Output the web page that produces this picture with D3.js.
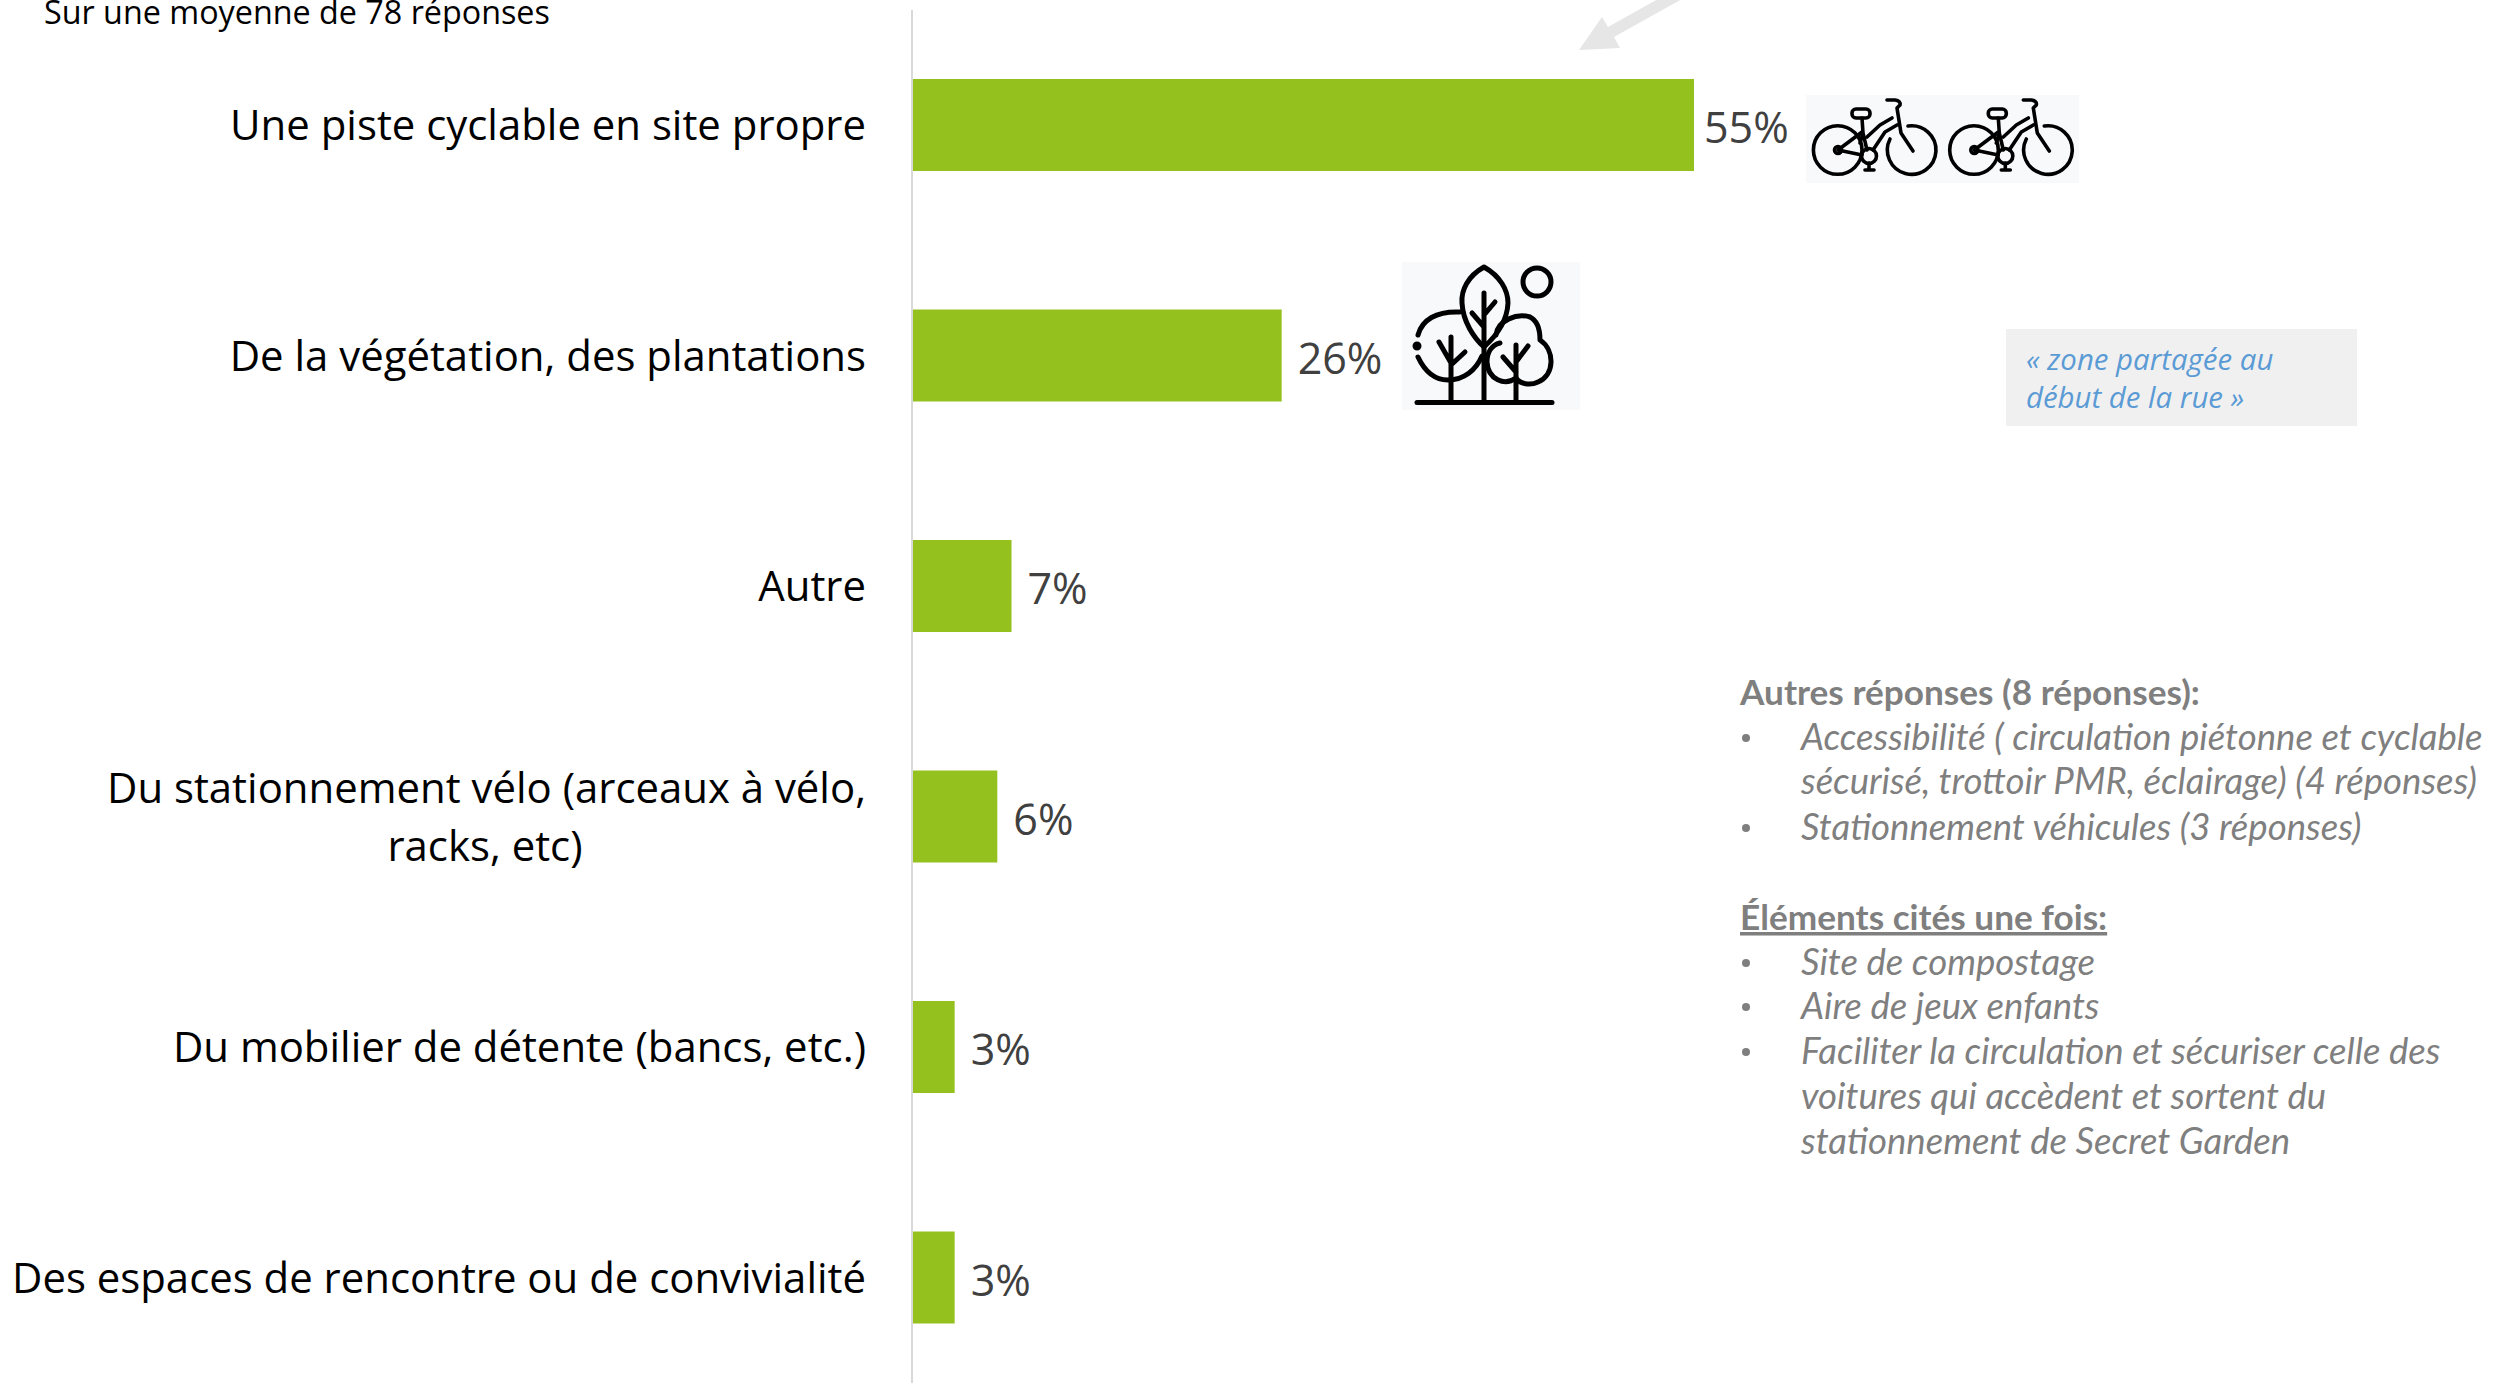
<!DOCTYPE html>
<html>
<head>
<meta charset="utf-8">
<script src="https://cdn.jsdelivr.net/npm/d3@7"></script>
<style>
body { margin: 0; background: #fff; }
svg { display: block; }
</style>
</head>
<body>
<script>
const canvWidth = 2520, canvHeight = 1383;

const categories = [
    ["Une piste cyclable en site propre"],
    ["De la végétation, des plantations"],
    ["Autre"],
    ["Du stationnement vélo (arceaux à vélo,", "racks, etc)"],
    ["Du mobilier de détente (bancs, etc.)"],
    ["Des espaces de rencontre ou de convivialité"]
];
const values = [55, 26, 7, 6, 3, 3];
const notesTop = ["Accessibilité ( circulation piétonne et cyclable", "sécurisé, trottoir PMR, éclairage) (4 réponses)", "Stationnement véhicules (3 réponses)"];
const notesOnce = ["Site de compostage", "Aire de jeux enfants", "Faciliter la circulation et sécuriser celle des", "voitures qui accèdent et sortent du", "stationnement de Secret Garden"];

const svg = d3.select("body").append("svg")
    .attr("width", canvWidth)
    .attr("height", canvHeight);

const x0 = 912, barStep = 230.5, barH = 92;

const xScale = d3.scaleLinear().domain([0, 55]).range([x0, 1694]);
const yScale = d3.scaleBand()
    .domain(d3.range(values.length))
    .range([9.75, 9.75 + barStep * values.length])
    .paddingInner(1 - barH / barStep)
    .paddingOuter((1 - barH / barStep) / 2);

svg.append("line")
    .attr("x1", x0).attr("x2", x0)
    .attr("y1", 10).attr("y2", canvHeight)
    .attr("stroke", "#d9d9d9").attr("stroke-width", 2);

svg.selectAll("rect.bar")
    .data(values)
    .enter().append("rect")
    .attr("class", "bar")
    .attr("x", x0 + 1)
    .attr("y", (d, i) => yScale(i))
    .attr("width", d => xScale(d) - x0 - 1)
    .attr("height", yScale.bandwidth())
    .attr("fill", "#95c11f");

svg.selectAll("text.val")
    .data(values)
    .enter().append("text")
    .attr("class", "val")
    .attr("x", (d, i) => xScale(d) + (i == 0 ? 10 : 16))
    .attr("y", (d, i) => yScale(i) + barH / 2 + 3)
    .attr("dy", "0.36em")
    .attr("font-family", "Open Sans")
    .attr("font-size", "43px")
    .attr("fill", "#404040")
    .text(d => d + "%");

// category labels, the wrapped one has its second line centred
const cat = svg.selectAll("g.cat")
    .data(categories)
    .enter().append("g")
    .attr("class", "cat")
    .attr("font-family", "Open Sans")
    .attr("font-size", "41.9px")
    .attr("fill", "#000");

cat.each(function(lines, i) {
    const g = d3.select(this);
    const cy = yScale(i) + barH / 2 + 2.5;
    if (lines.length == 1) {
        g.append("text").attr("x", 866).attr("y", cy).attr("dy", "0.3em")
            .attr("text-anchor", "end").text(lines[0]);
    } else {
        g.append("text").attr("x", 866).attr("y", cy - 29).attr("dy", "0.3em")
            .attr("text-anchor", "end").text(lines[0]);
        g.append("text").attr("x", 485).attr("y", cy + 29).attr("dy", "0.3em")
            .attr("text-anchor", "middle").text(lines[1]);
    }
});

svg.append("text")
    .attr("x", 44).attr("y", 24)
    .attr("font-family", "Open Sans")
    .attr("font-size", "32.3px")
    .attr("fill", "#000")
    .text("Sur une moyenne de 78 réponses");

// grey arrow coming from the cropped callout
svg.append("path")
    .attr("d", "M1658,-1 L1608,27 L1602,17 L1579,50 L1620,48 L1614,37 L1682,-1 Z")
    .attr("fill", "#e6e6e6");

// bikes
svg.append("rect").attr("x", 1806).attr("y", 95).attr("width", 273).attr("height", 88).attr("fill", "#f8f9fb");
function bike(ox) {
    const g = svg.append("g")
        .attr("transform", `translate(${ox},95)`)
        .attr("fill", "none").attr("stroke", "#000")
        .attr("stroke-width", 3.6).attr("stroke-linecap", "round").attr("stroke-linejoin", "round");
    g.append("circle").attr("cx", 31.7).attr("cy", 55).attr("r", 24.3);
    g.append("path").attr("d", "M102,31 A24.3,24.3 0 1 1 84,44");
    g.append("path").attr("d", "M81,5 H89 Q95,6 94,10 L91,13 L95,38 L107,56");
    g.append("rect").attr("x", 46).attr("y", 14).attr("width", 18).attr("height", 9).attr("rx", 4);
    g.append("path").attr("d", "M56,23 L57,38 L54,48 M32,55 L56,37 M32,55 L56,60 M57,38 L61,55");
    g.append("path").attr("d", "M61,42 L74,30 L86,23 M67,55 L79,37 L91,30");
    g.append("circle").attr("cx", 63).attr("cy", 61).attr("r", 7.5);
    g.append("path").attr("d", "M63,68 V75 M59,75 H68");
    g.append("circle").attr("cx", 32).attr("cy", 55).attr("r", 3.5);
}
bike(1806);
bike(1942.3);

// trees
svg.append("rect").attr("x", 1402).attr("y", 262).attr("width", 178).attr("height", 148).attr("fill", "#f8f9fb");
const t = svg.append("g")
    .attr("transform", "translate(1370,240)")
    .attr("fill", "none").attr("stroke", "#000")
    .attr("stroke-width", 5).attr("stroke-linecap", "round").attr("stroke-linejoin", "round");
t.append("circle").attr("cx", 167).attr("cy", 42).attr("r", 14);
t.append("path").attr("d", "M47,162.5 H182");
t.append("path").attr("d", "M114,162 V53 M125,62 L114,75 M102,73 L114,87");
t.append("path").attr("d", "M114,27 C98,36 91,50 92,63 C93,82 104,98 114,107 C124,98 137,84 138,63 C138,50 130,36 114,27 Z");
t.append("path").attr("d", "M48,95 C52,80 66,71 90,72");
t.append("path").attr("d", "M48,117 C56,134 66,140 78,140 C94,140 106,130 112,116");
t.append("path").attr("d", "M81,160 V97 M69,102 L81,123 M95,112 L81,125");
t.append("path").attr("d", "M146,160 V105 M158,106 L146,122 M133,117 L146,132");
t.append("path").attr("d", "M126,95 C128,80 147,73 160,77 C168,81 170,90 170,100 C185,110 185,135 168,142 C160,146 150,144 146,138 C135,146 118,140 117,122 C117,112 122,105 130,103");
t.append("circle").attr("cx", 47).attr("cy", 106).attr("r", 2).attr("fill", "#000");

// quote box
svg.append("rect").attr("x", 2006).attr("y", 329).attr("width", 351).attr("height", 97).attr("fill", "#f0f0f0");
svg.selectAll("text.quote")
    .data(["« zone partagée au", "début de la rue »"])
    .enter().append("text")
    .attr("class", "quote")
    .attr("x", 2026)
    .attr("y", (d, i) => 369.5 + i * 38)
    .attr("font-family", "Open Sans")
    .attr("font-style", "italic")
    .attr("font-size", "29.4px")
    .attr("fill", "#5b9bd5")
    .text(d => d);

// right hand notes
const noteFont = "Lato", noteCol = "#7f7f7f", noteX = 1740, bulletX = 1746, itemX = 1801;
function head(y, s, underline) {
    svg.append("text").attr("x", noteX).attr("y", y)
        .attr("font-family", noteFont).attr("font-weight", 700).attr("font-size", "35.2px")
        .attr("fill", noteCol).attr("text-decoration", underline ? "underline" : null).text(s);
}
function item(y, s, bullet) {
    if (bullet) {
        svg.append("circle").attr("cx", bulletX).attr("cy", y - 12).attr("r", 4).attr("fill", noteCol);
    }
    svg.append("text").attr("x", itemX).attr("y", y)
        .attr("font-family", noteFont).attr("font-style", "italic").attr("font-size", "36.6px")
        .attr("fill", noteCol).text(s);
}
head(705, "Autres réponses (8 réponses):");
item(750, notesTop[0], true);
item(794, notesTop[1], false);
item(840, notesTop[2], true);
head(930, "Éléments cités une fois:", true);
item(975, notesOnce[0], true);
item(1019, notesOnce[1], true);
item(1064, notesOnce[2], true);
item(1109, notesOnce[3], false);
item(1154, notesOnce[4], false);
</script>
</body>
</html>
